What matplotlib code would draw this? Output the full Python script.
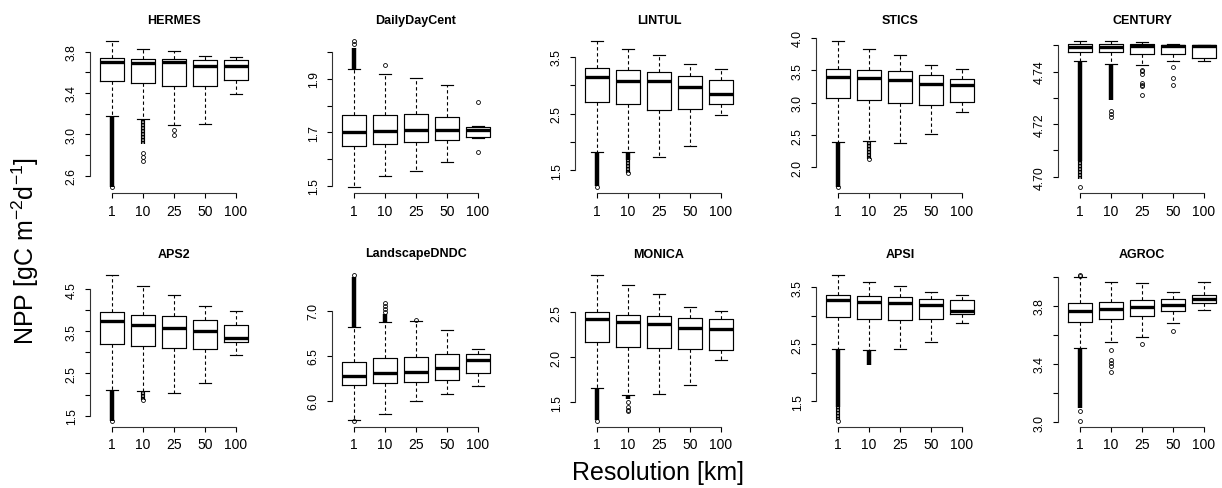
import matplotlib
matplotlib.use("Agg")
import matplotlib.pyplot as plt

plt.rcParams['font.family'] = ['Liberation Sans', 'DejaVu Sans']
plt.rcParams['mathtext.fontset'] = 'custom'
plt.rcParams['mathtext.rm'] = 'Liberation Sans'
plt.rcParams['mathtext.it'] = 'Liberation Sans:italic'
plt.rcParams['mathtext.bf'] = 'Liberation Sans:bold'

# ---------------- data ----------------
resolutions = ["1", "10", "25", "50", "100"]
models = ["HERMES", "DailyDayCent", "LINTUL", "STICS", "CENTURY",
          "APS2", "LandscapeDNDC", "MONICA", "APSI", "AGROC"]

HERMES = dict(whishi=[3.900, 3.825, 3.806, 3.757, 3.745],
              q3=[3.735, 3.725, 3.725, 3.718, 3.718],
              med=[3.700, 3.693, 3.700, 3.660, 3.660],
              q1=[3.514, 3.492, 3.469, 3.469, 3.524],
              whislo=[3.177, 3.144, 3.093, 3.103, 3.388])
HERMES_solid = [[(2.49, 3.177)], [], [], [], []]
HERMES_dotted = [[], [(2.91, 3.14)], [], [], []]
HERMES_out = [[2.487], [2.82, 2.776, 2.743], [3.04, 2.99], [], []]

DailyDayCent = dict(whishi=[1.937, 1.919, 1.904, 1.878, 1.725],
                    q3=[1.765, 1.765, 1.769, 1.756, 1.721],
                    med=[1.700, 1.704, 1.710, 1.710, 1.710],
                    q1=[1.650, 1.656, 1.663, 1.670, 1.681],
                    whislo=[1.495, 1.538, 1.556, 1.588, 1.678])
DailyDayCent_solid = [[(1.937, 2.016)], [], [], [], []]
DailyDayCent_dotted = [[], [], [], [], []]
DailyDayCent_out = [[2.04, 2.03], [1.953], [], [], [1.813, 1.628]]

LINTUL = dict(whishi=[3.776, 3.647, 3.541, 3.376, 3.294],
              q3=[3.306, 3.265, 3.235, 3.165, 3.088],
              med=[3.147, 3.082, 3.071, 2.971, 2.847],
              q1=[2.706, 2.676, 2.559, 2.582, 2.665],
              whislo=[1.818, 1.829, 1.729, 1.924, 2.470])
LINTUL_solid = [[(1.22, 1.818)], [(1.69, 1.829)], [], [], []]
LINTUL_dotted = [[], [(1.46, 1.69)], [], [], []]
LINTUL_out = [[1.206], [1.453], [], [], []]

STICS = dict(whishi=[3.948, 3.830, 3.732, 3.588, 3.526],
             q3=[3.526, 3.500, 3.485, 3.423, 3.361],
             med=[3.397, 3.381, 3.356, 3.294, 3.268],
             q1=[3.072, 3.046, 2.995, 2.959, 3.010],
             whislo=[2.387, 2.412, 2.376, 2.515, 2.856])
STICS_solid = [[(1.70, 2.387)], [], [], [], []]
STICS_dotted = [[], [(2.13, 2.40)], [], [], []]
STICS_out = [[1.696], [2.125], [], [], []]

CENTURY = dict(whishi=[4.7515, 4.7515, 4.7511, 4.7503, 4.7501],
               q3=[4.7503, 4.7503, 4.7503, 4.7500, 4.7501],
               med=[4.7492, 4.7492, 4.7499, 4.7496, 4.7496],
               q1=[4.7475, 4.7475, 4.7467, 4.7467, 4.7452],
               whislo=[4.7439, 4.7429, 4.7426, 4.7439, 4.7442])
CENTURY_solid = [[(4.7060, 4.7439)], [(4.7293, 4.7429)], [], [], []]
CENTURY_dotted = [[(4.6990, 4.7060)], [], [], [], []]
CENTURY_out = [[4.6960], [4.7248, 4.7238, 4.7228],
               [4.7407, 4.7401, 4.7391, 4.7356, 4.7350, 4.7344, 4.7310],
               [4.7417, 4.7375, 4.7348], []]

APS2 = dict(whishi=[4.838, 4.563, 4.366, 4.091, 3.974],
            q3=[3.958, 3.895, 3.856, 3.762, 3.652],
            med=[3.738, 3.659, 3.581, 3.518, 3.337],
            q1=[3.204, 3.149, 3.094, 3.070, 3.251],
            whislo=[2.104, 2.073, 2.026, 2.285, 2.945])
APS2_solid = [[(1.381, 2.104)], [], [], [], []]
APS2_dotted = [[], [(1.88, 2.07)], [], [], []]
APS2_out = [[1.381], [1.87], [], [], []]

LandscapeDNDC = dict(whishi=[6.816, 6.875, 6.882, 6.783, 6.577],
                     q3=[6.434, 6.471, 6.489, 6.515, 6.522],
                     med=[6.276, 6.305, 6.324, 6.368, 6.449],
                     q1=[6.173, 6.202, 6.213, 6.232, 6.313],
                     whislo=[5.785, 5.853, 6.000, 6.074, 6.165])
LandscapeDNDC_solid = [[(6.816, 7.37)], [(6.875, 6.96)], [], [], []]
LandscapeDNDC_dotted = [[], [], [], [], []]
LandscapeDNDC_out = [[7.397, 5.780], [6.99, 7.02, 7.05, 7.085], [6.90], [], []]

MONICA = dict(whishi=[2.915, 2.798, 2.702, 2.555, 2.511],
              q3=[2.500, 2.474, 2.463, 2.437, 2.426],
              med=[2.426, 2.393, 2.371, 2.327, 2.309],
              q1=[2.173, 2.118, 2.099, 2.096, 2.077],
              whislo=[1.665, 1.588, 1.592, 1.691, 1.970])
MONICA_solid = [[(1.30, 1.665)], [(1.54, 1.588)], [], [], []]
MONICA_dotted = [[], [], [], [], []]
MONICA_out = [[1.298], [1.50, 1.445, 1.42, 1.40], [], [], []]

APSI = dict(whishi=[3.714, 3.581, 3.512, 3.407, 3.367],
            q3=[3.355, 3.338, 3.320, 3.291, 3.268],
            med=[3.268, 3.245, 3.222, 3.181, 3.088],
            q1=[2.978, 2.949, 2.920, 2.949, 3.036],
            whislo=[2.410, 2.393, 2.410, 2.543, 2.874])
APSI_solid = [[(1.40, 2.410)], [(2.13, 2.393)], [], [], []]
APSI_dotted = [[(1.17, 1.40)], [], [], [], []]
APSI_out = [[1.164], [], [], [], []]

AGROC = dict(whishi=[3.995, 3.967, 3.956, 3.896, 3.963],
             q3=[3.818, 3.825, 3.837, 3.844, 3.876],
             med=[3.761, 3.777, 3.789, 3.805, 3.846],
             q1=[3.692, 3.711, 3.729, 3.766, 3.816],
             whislo=[3.509, 3.550, 3.582, 3.685, 3.768])
AGROC_solid = [[(3.10, 3.509)], [], [], [], []]
AGROC_dotted = [[], [], [], [], []]
AGROC_out = [[4.013, 4.005, 3.074, 3.010], [3.498, 3.429, 3.405, 3.388, 3.342],
             [3.537], [3.630], []]

# y tick values and labels per panel
HERMES_yticks = [2.6, 2.8, 3.0, 3.2, 3.4, 3.6, 3.8]
HERMES_ylabels = ["2.6", "", "3.0", "", "3.4", "", "3.8"]
DailyDayCent_yticks = [1.5, 1.6, 1.7, 1.8, 1.9, 2.0]
DailyDayCent_ylabels = ["1.5", "", "1.7", "", "1.9", ""]
LINTUL_yticks = [1.5, 2.0, 2.5, 3.0, 3.5]
LINTUL_ylabels = ["1.5", "", "2.5", "", "3.5"]
STICS_yticks = [2.0, 2.5, 3.0, 3.5, 4.0]
STICS_ylabels = ["2.0", "2.5", "3.0", "3.5", "4.0"]
CENTURY_yticks = [4.70, 4.71, 4.72, 4.73, 4.74, 4.75]
CENTURY_ylabels = ["4.70", "", "4.72", "", "4.74", ""]
APS2_yticks = [1.5, 2.0, 2.5, 3.0, 3.5, 4.0, 4.5]
APS2_ylabels = ["1.5", "", "2.5", "", "3.5", "", "4.5"]
LandscapeDNDC_yticks = [6.0, 6.5, 7.0]
LandscapeDNDC_ylabels = ["6.0", "6.5", "7.0"]
MONICA_yticks = [1.5, 2.0, 2.5]
MONICA_ylabels = ["1.5", "2.0", "2.5"]
APSI_yticks = [1.5, 2.0, 2.5, 3.0, 3.5]
APSI_ylabels = ["1.5", "", "2.5", "", "3.5"]
AGROC_yticks = [3.0, 3.2, 3.4, 3.6, 3.8, 4.0]
AGROC_ylabels = ["3.0", "", "3.4", "", "3.8", ""]

ylabel_text = "NPP [gC m$^{-2}$d$^{-1}$]"
xlabel_text = "Resolution [km]"

g = globals()

# ---------------- layout ----------------
W, H = 1222, 489
fig = plt.figure(figsize=(W / 100, H / 100), dpi=100)

col_box1_px = [112, 354, 597, 838, 1080]
row_bottom_px = [194.0, 427.5]
unit_px = 31.0
plot_h_px = 157.5

positions = [1, 2, 3, 4, 5]
dash = (0, (3.0, 2.4))

for k, name in enumerate(models):
    r, c = divmod(k, 5)
    left_px = col_box1_px[c] - 0.7 * unit_px
    ax = fig.add_axes([left_px / W, (H - row_bottom_px[r]) / H,
                       5.4 * unit_px / W, plot_h_px / H])
    s = g[name]
    solid = g[name + "_solid"]
    dotted = g[name + "_dotted"]
    outs = g[name + "_out"]

    stats = []
    for i in range(5):
        stats.append(dict(med=s["med"][i], q1=s["q1"][i], q3=s["q3"][i],
                          whislo=s["whislo"][i], whishi=s["whishi"][i], fliers=[]))
    ax.bxp(stats, positions=positions, widths=0.8, capwidths=0.4,
           showfliers=False,
           boxprops=dict(color="black", linewidth=0.85),
           whiskerprops=dict(color="black", linewidth=0.8, linestyle=dash),
           capprops=dict(color="black", linewidth=0.85),
           medianprops=dict(color="black", linewidth=2.4, solid_capstyle="butt"))

    allvals = []
    for i in range(5):
        x = positions[i]
        for (a, b) in solid[i]:
            ax.vlines(x, a, b, color="black", linewidth=3.2, zorder=3)
            allvals += [a, b]
        for (a, b) in dotted[i]:
            ax.vlines(x, a, b, color="black", linewidth=3.0, zorder=3)
            ax.vlines(x, a, b, color="#b0b0b0", linewidth=1.2, zorder=4,
                      linestyle=(0, (1.0, 0.8)))
            allvals += [a, b]
        if outs[i]:
            ax.plot([x] * len(outs[i]), outs[i], linestyle="none", marker="o",
                    markersize=2.8, markerfacecolor="none",
                    markeredgecolor="black", markeredgewidth=0.6, zorder=5)
            allvals += outs[i]
        allvals += [s["whislo"][i], s["whishi"][i]]

    lo, hi = min(allvals), max(allvals)
    ext = 0.04 * (hi - lo)
    ax.set_ylim(lo - ext, hi + ext)
    ax.set_xlim(0.3, 5.7)

    yt = g[name + "_yticks"]
    ax.set_yticks(yt)
    ax.set_yticklabels(g[name + "_ylabels"], rotation=90, va="center")
    ax.set_xticks(positions)
    ax.set_xticklabels(resolutions)

    for side in ("top", "right"):
        ax.spines[side].set_visible(False)
    ax.spines["left"].set_bounds(yt[0], yt[-1])
    ax.spines["bottom"].set_bounds(1, 5)
    for side in ("left", "bottom"):
        ax.spines[side].set_linewidth(0.8)
        ax.spines[side].set_color("#333333")
    ax.tick_params(axis="both", length=3.6, width=0.8, colors="black")
    ax.tick_params(axis="y", pad=5.5, labelsize=8.8)
    ax.tick_params(axis="x", pad=4.0, labelsize=10)
    ax.set_facecolor("none")
    ax.set_title(name, fontsize=9, fontweight="bold", pad=9)

fig.text(25 / W, 1 - 251 / H, ylabel_text, rotation=90, ha="center",
         va="center", fontsize=18)
fig.text(658 / W, 1 - 473 / H, xlabel_text, ha="center", va="center",
         fontsize=18)

fig.savefig("out.png", dpi=100, facecolor="white")
